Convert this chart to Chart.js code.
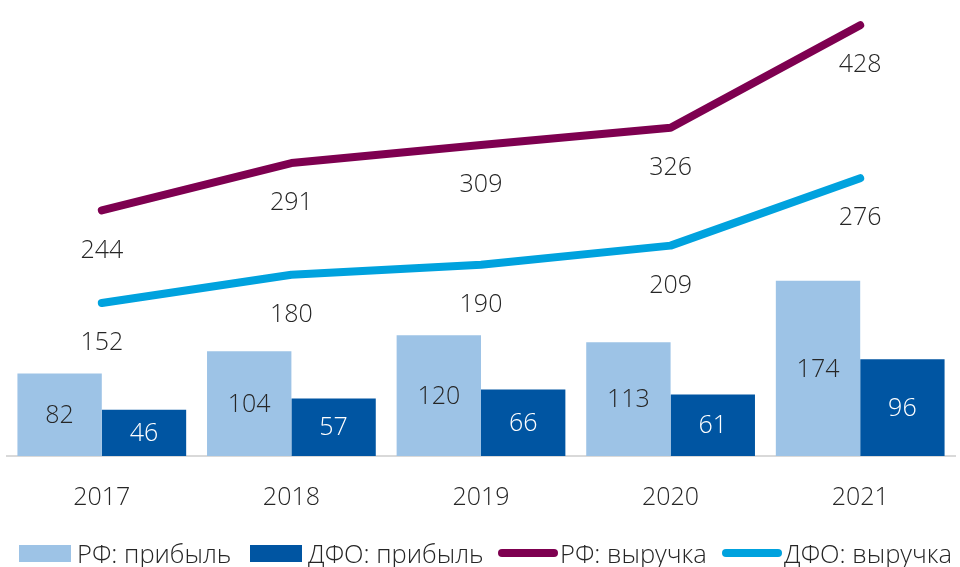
<!DOCTYPE html>
<html>
<head>
<meta charset="utf-8">
<script src="https://cdn.jsdelivr.net/npm/chart.js@4"></script>
<style>
  body { margin: 0; background: #fff; font-family: "Open Sans", sans-serif; }
  #wrap { width: 960px; height: 567px; position: relative; overflow: hidden; }
  canvas { position: absolute; top: 0; left: 0; }
  #legend { position: absolute; top: 536px; left: 0; width: 960px; height: 30px; font-size: 25.5px; font-weight: 300; color: #262626; white-space: nowrap; }
  .item { position: absolute; top: 0; display: flex; align-items: center; }
  .box { width: 52px; height: 17px; margin-right: 6px; }
  .ln { width: 60px; height: 8px; border-radius: 4px; margin-right: 2px; }
</style>
</head>
<body>
<div id="wrap">
  <canvas id="chart" width="960" height="540"></canvas>
  <div id="legend">
    <div class="item" style="left:19px"><span class="box" style="background:#9dc3e6"></span>РФ: прибыль</div>
    <div class="item" style="left:250px"><span class="box" style="background:#0055a2"></span>ДФО: прибыль</div>
    <div class="item" style="left:498px"><span class="ln" style="background:#7e0050"></span>РФ: выручка</div>
    <div class="item" style="left:722px"><span class="ln" style="background:#00a2de"></span>ДФО: выручка</div>
  </div>
</div>
<script>
const years = ["2017", "2018", "2019", "2020", "2021"];
const rfProfit = [82, 104, 120, 113, 174];
const dfoProfit = [46, 57, 66, 61, 96];
const rfRevenue = [244, 291, 309, 326, 428];
const dfoRevenue = [152, 180, 190, 209, 276];

// draws the numbers: inside bars (middle), under line points
const valueLabels = {
  id: 'valueLabels',
  afterDatasetsDraw(chart) {
    const ctx = chart.ctx;
    ctx.save();
    ctx.font = '300 25px "Open Sans"';
    ctx.textAlign = 'center';
    ctx.textBaseline = 'middle';
    chart.data.datasets.forEach((ds, i) => {
      const meta = chart.getDatasetMeta(i);
      meta.data.forEach((el, j) => {
        const v = ds.data[j];
        let y;
        if (ds.type === 'line') {
          y = el.y + 40;
        } else {
          y = (el.y + el.base) / 2 + 1;
        }
        ctx.fillStyle = ds.labelColor;
        ctx.fillText(v, el.x, y);
      });
    });
    ctx.restore();
  }
};

new Chart(document.getElementById('chart'), {
  data: {
    labels: years,
    datasets: [
      {
        type: 'line', label: 'РФ: выручка', data: rfRevenue,
        borderColor: '#7e0050', borderWidth: 8, pointRadius: 0,
        borderCapStyle: 'round', borderJoinStyle: 'round', tension: 0,
        labelColor: '#262626'
      },
      {
        type: 'line', label: 'ДФО: выручка', data: dfoRevenue,
        borderColor: '#00a2de', borderWidth: 8, pointRadius: 0,
        borderCapStyle: 'round', borderJoinStyle: 'round', tension: 0,
        labelColor: '#262626'
      },
      {
        type: 'bar', label: 'РФ: прибыль', data: rfProfit,
        backgroundColor: '#9dc3e6', barPercentage: 1, categoryPercentage: 0.89,
        labelColor: '#262626'
      },
      {
        type: 'bar', label: 'ДФО: прибыль', data: dfoProfit,
        backgroundColor: '#0055a2', barPercentage: 1, categoryPercentage: 0.89,
        labelColor: '#ffffff'
      }
    ]
  },
  options: {
    responsive: false,
    animation: false,
    layout: { padding: { left: 7, right: 5, top: 0 } },
    plugins: { legend: { display: false }, tooltip: { enabled: false } },
    scales: {
      x: {
        grid: { display: false, drawTicks: false },
        border: { display: true, color: '#d9d9d9', width: 2 },
        ticks: { font: { size: 25, weight: 300, family: '"Open Sans"' }, color: '#262626', padding: 27 }
      },
      y: { display: false, min: 0, max: 453 }
    }
  },
  plugins: [valueLabels]
});
</script>
</body>
</html>
